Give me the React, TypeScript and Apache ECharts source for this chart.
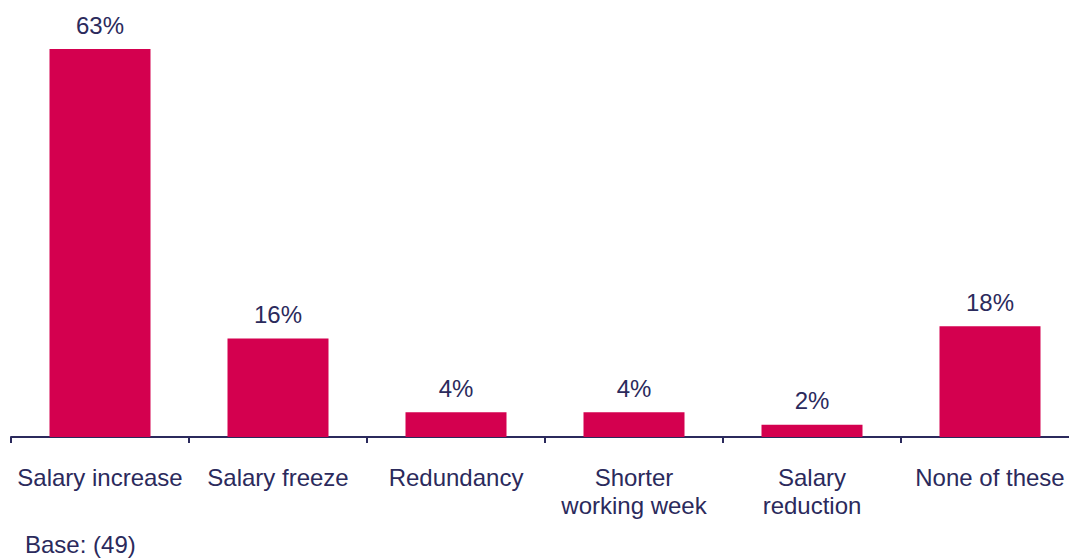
import React, { useEffect, useRef } from "react";
import * as echarts from "echarts";

const categories = [
  "Salary increase",
  "Salary freeze",
  "Redundancy",
  "Shorter\nworking week",
  "Salary\nreduction",
  "None of these",
];
const values = [63, 16, 4, 4, 2, 18];
const baseNote = "Base: (49)";

const BAR = "#D4004F";
const INK = "#2B2A5C";
const FONT = "'Liberation Sans', Arial, sans-serif";

export default function App() {
  const ref = useRef<HTMLDivElement>(null);
  useEffect(() => {
    if (!ref.current) return;
    const chart = echarts.init(ref.current, undefined, { renderer: "svg" });
    chart.setOption({
      animation: false,
      textStyle: { fontFamily: FONT },
      grid: { left: 11, top: 49, width: 1068, bottom: 122, containLabel: false },
      xAxis: {
        type: "category",
        data: categories,
        axisLine: { show: true, lineStyle: { color: INK, width: 2 } },
        axisTick: { show: true, length: 6, lineStyle: { color: INK, width: 2 } },
        axisLabel: {
          color: INK,
          fontSize: 24,
          lineHeight: 28,
          margin: 26,
          fontFamily: FONT,
          interval: 0,
        },
      },
      yAxis: {
        type: "value",
        min: 0,
        max: 63,
        show: false,
        splitLine: { show: false },
      },
      series: [
        {
          type: "bar",
          data: values,
          barWidth: 101,
          itemStyle: { color: BAR },
          label: {
            show: true,
            position: "top",
            distance: 10,
            formatter: "{c}%",
            color: INK,
            fontSize: 24,
            lineHeight: 28,
            fontFamily: FONT,
          },
        },
      ],
      graphic: [
        {
          type: "text",
          left: 25,
          top: 532,
          style: { text: baseNote, fill: INK, fontSize: 24, fontFamily: FONT },
        },
      ],
    });
    return () => chart.dispose();
  }, []);
  return (
    <div
      style={{
        position: "absolute",
        left: 0,
        top: 0,
        width: 1069,
        height: 559,
        overflow: "hidden",
        background: "#fff",
      }}
    >
      <div ref={ref} style={{ width: 1090, height: 559 }} />
    </div>
  );
}
